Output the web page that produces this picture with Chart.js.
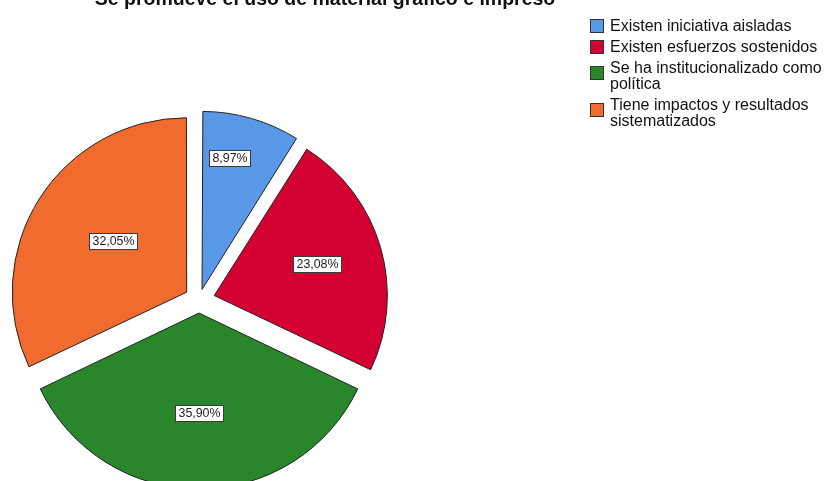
<!DOCTYPE html>
<html lang="es">
<head>
<meta charset="utf-8">
<title>Se promueve el uso de material gráfico e impreso</title>
<script src="https://cdn.jsdelivr.net/npm/chart.js@4.4.1/dist/chart.umd.min.js"></script>
<style>
  html, body { margin: 0; padding: 0; background: #fff; }
  #frame {
    position: relative;
    width: 826px;
    height: 481px;
    overflow: hidden;
    background: #fff;
    font-family: "Liberation Sans", Arial, sans-serif;
  }
  #pie { position: absolute; left: 0; top: 0; }
  #title {
    position: absolute;
    left: 0;
    top: -11px;
    width: 650px;
    text-align: center;
    font-weight: bold;
    font-size: 19.5px;
    line-height: 19.5px;
    color: #111;
    white-space: nowrap;
  }
  #legend {
    position: absolute;
    left: 590px;
    top: 18px;
    font-size: 16px;
    line-height: 16px;
    color: #111;
  }
  .item { display: flex; align-items: center; margin-bottom: 5px; white-space: nowrap; }
  .swatch {
    width: 12px;
    height: 12px;
    border: 1px solid #333;
    margin-right: 6px;
    flex: none;
  }
  .item.two .swatch { position: relative; top: -3px; }
</style>
</head>
<body>
<div id="frame">
  <canvas id="pie" width="826" height="520"></canvas>
  <div id="title">Se promueve el uso de material gráfico e impreso</div>
  <div id="legend"></div>
</div>
<script>
// category names (legend) and their shares in percent
const categories = [
  "Existen iniciativa aisladas",
  "Existen esfuerzos sostenidos",
  "Se ha institucionalizado como\npolítica",
  "Tiene impactos y resultados\nsistematizados"
];
const percentages = [8.97, 23.08, 35.90, 32.05];
const sliceColors = ["#5898E6", "#D30031", "#29862B", "#F26B2E"];

// exploded distance of every slice, px
const GAP = 16;
// where each value box sits inside its slice: share of the slice angle, share of the radius
const labelAngle = [0.365, 0.49, 0.5, 0.524];
const labelDepth = [0.75, 0.62, 0.56, 0.51];

const total = percentages.reduce((a, b) => a + b, 0);

// Chart.js moves an arc by offset/4 * (1 + fix); undo that so every slice moves GAP px
function sliceOffset(ctx) {
  const circ = 2 * Math.PI * ctx.dataset.data[ctx.dataIndex] / total;
  const fix = 1 - Math.sin(Math.min(Math.PI, circ));
  return 4 * GAP / (1 + fix);
}

function fmtPct(v) {
  return v.toFixed(2).replace(".", ",") + "%";
}

// boxed percentage labels drawn on top of each slice
const boxLabels = {
  id: "boxLabels",
  afterDatasetsDraw(chart) {
    const ctx = chart.ctx;
    const meta = chart.getDatasetMeta(0);
    ctx.save();
    ctx.font = "12.4px 'Liberation Sans', Arial, sans-serif";
    ctx.textAlign = "center";
    ctx.textBaseline = "middle";
    meta.data.forEach((arc, i) => {
      const p = arc.getProps(["x", "y", "startAngle", "endAngle", "outerRadius"], true);
      const mid = (p.startAngle + p.endAngle) / 2;
      const ox = p.x + Math.cos(mid) * GAP;
      const oy = p.y + Math.sin(mid) * GAP;
      const a = p.startAngle + (p.endAngle - p.startAngle) * labelAngle[i];
      const r = p.outerRadius * labelDepth[i];
      const cx = ox + Math.cos(a) * r;
      const cy = oy + Math.sin(a) * r;
      const txt = fmtPct(percentages[i]);
      const w = Math.round(ctx.measureText(txt).width) + 6;
      const h = 16;
      const bx = Math.round(cx - w / 2) + 0.5;
      const by = Math.round(cy - h / 2) + 0.5;
      ctx.fillStyle = "#fff";
      ctx.fillRect(bx, by, w, h);
      ctx.strokeStyle = "#3a3a3a";
      ctx.lineWidth = 1;
      ctx.strokeRect(bx, by, w, h);
      ctx.fillStyle = "#222";
      ctx.fillText(txt, bx + w / 2, by + h / 2 + 0.5);
    });
    ctx.restore();
  }
};

const chart = new Chart(document.getElementById("pie"), {
  type: "pie",
  data: {
    labels: categories,
    datasets: [{
      data: percentages,
      backgroundColor: sliceColors,
      borderColor: "#222",
      borderWidth: 1,
      offset: sliceOffset
    }]
  },
  options: {
    responsive: false,
    animation: false,
    devicePixelRatio: 1,
    events: [],
    radius: 173,
    layout: { padding: { left: 0, right: 428, top: 80, bottom: 0 } },
    plugins: {
      legend: { display: false },
      title: { display: false },
      tooltip: { enabled: false }
    }
  },
  plugins: [boxLabels]
});

// legend built from the same categories and colours
const legend = document.getElementById("legend");
categories.forEach((name, i) => {
  const lines = name.split("\n");
  const row = document.createElement("div");
  row.className = lines.length > 1 ? "item two" : "item";
  const sw = document.createElement("span");
  sw.className = "swatch";
  sw.style.background = sliceColors[i];
  const txt = document.createElement("span");
  lines.forEach((ln, k) => {
    if (k) txt.appendChild(document.createElement("br"));
    txt.appendChild(document.createTextNode(ln));
  });
  row.appendChild(sw);
  row.appendChild(txt);
  legend.appendChild(row);
});
</script>
</body>
</html>
